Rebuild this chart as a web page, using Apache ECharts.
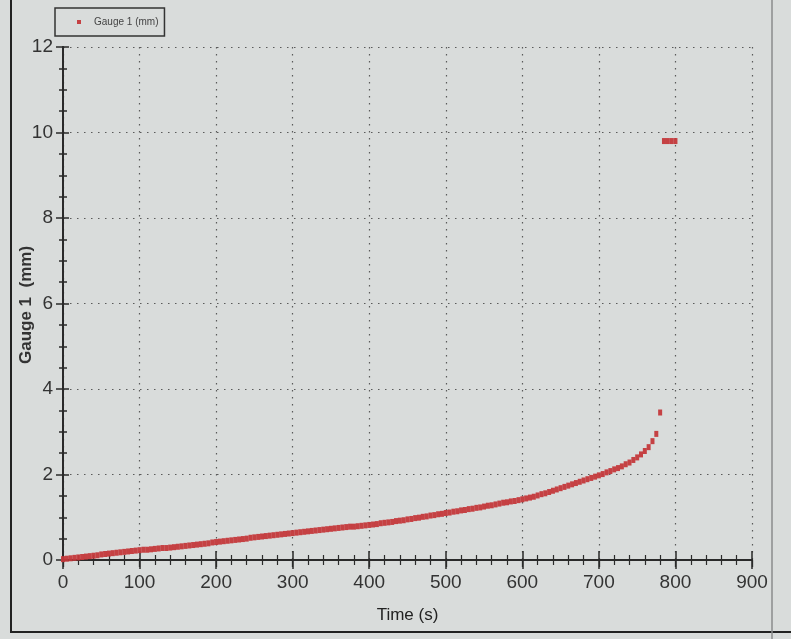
<!DOCTYPE html>
<html>
<head>
<meta charset="utf-8">
<script src="https://cdn.jsdelivr.net/npm/echarts@6/dist/echarts.min.js"></script>
<style>
html,body{margin:0;padding:0;background:#d9dcdb;}
#chart{width:791px;height:639px;}
</style>
</head>
<body>
<div id="chart"></div>
<script>
// Time (s) of each sample
var times = [
  0,5,10,15,20,25,30,35,40,45,50,
  55,60,65,70,75,80,85,90,95,100,
  105,110,115,120,125,130,135,140,145,150,
  155,160,165,170,175,180,185,190,195,200,
  205,210,215,220,225,230,235,240,245,250,
  255,260,265,270,275,280,285,290,295,300,
  305,310,315,320,325,330,335,340,345,350,
  355,360,365,370,375,380,385,390,395,400,
  405,410,415,420,425,430,435,440,445,450,
  455,460,465,470,475,480,485,490,495,500,
  505,510,515,520,525,530,535,540,545,550,
  555,560,565,570,575,580,585,590,595,600,
  605,610,615,620,625,630,635,640,645,650,
  655,660,665,670,675,680,685,690,695,700,
  705,710,715,720,725,730,735,740,745,750,
  755,760,765,770,775,780,
  785,790,795,800
];
// Gauge 1 (mm) readings
var gauge1 = [
  0.02,0.03,0.04,0.05,0.06,0.07,0.08,0.09,0.10,0.11,0.13,
  0.14,0.15,0.16,0.17,0.18,0.19,0.20,0.21,0.22,0.23,
  0.24,0.24,0.25,0.26,0.27,0.28,0.28,0.29,0.30,0.31,
  0.32,0.33,0.34,0.35,0.36,0.37,0.38,0.39,0.41,0.42,
  0.43,0.44,0.45,0.46,0.47,0.48,0.49,0.50,0.52,0.53,
  0.54,0.55,0.56,0.57,0.58,0.59,0.60,0.61,0.62,0.63,
  0.64,0.65,0.66,0.67,0.68,0.69,0.70,0.71,0.72,0.73,
  0.74,0.75,0.76,0.77,0.78,0.78,0.79,0.80,0.81,0.82,
  0.83,0.84,0.86,0.87,0.88,0.89,0.91,0.92,0.93,0.95,
  0.96,0.98,0.99,1.01,1.02,1.04,1.05,1.07,1.08,1.10,
  1.11,1.13,1.14,1.16,1.17,1.19,1.20,1.22,1.23,1.25,
  1.27,1.28,1.30,1.32,1.34,1.35,1.37,1.38,1.40,1.42,
  1.44,1.46,1.48,1.51,1.54,1.56,1.59,1.62,1.65,1.68,
  1.71,1.74,1.77,1.80,1.83,1.86,1.89,1.92,1.95,1.98,
  2.01,2.05,2.08,2.12,2.15,2.19,2.24,2.28,2.34,2.40,
  2.47,2.55,2.64,2.78,2.95,3.45,
  9.8,9.8,9.8,9.8
];
var seriesName = 'Gauge 1 (mm)';
var xTitle = 'Time (s)';
var yTitle = 'Gauge 1  (mm)';

var points = [];
for (var i = 0; i < times.length; i++) points.push([times[i], gauge1[i]]);

var labelFont = '"Liberation Sans Narrow", "Liberation Sans", Arial, sans-serif';
var axisCol = '#2a2a2a';
var gridLine = {show:true, lineStyle:{color:'#5a5a5a', width:1.2, type:[1.5,5.5]}};

var chart = echarts.init(document.getElementById('chart'));
chart.setOption({
  backgroundColor: '#d9dcdb',
  animation: false,
  legend: {
    left: 55, top: 8,
    itemWidth: 4, itemHeight: 4,
    padding: [9, 6, 9, 22],
    itemGap: 10,
    borderColor: '#333', borderWidth: 1.5,
    textStyle: {fontFamily: labelFont, fontSize: 10, color: '#444', padding: [0, 0, 0, 8]},
    data: [{name: seriesName, icon: 'rect'}]
  },
  grid: {left: 63, right: 39, top: 47, bottom: 79, containLabel: false},
  xAxis: [{
    type: 'value', min: 0, max: 900, interval: 100, position: 'bottom',
    name: xTitle, nameLocation: 'middle', nameGap: 47,
    nameTextStyle: {fontFamily: labelFont, fontSize: 17, color: '#222'},
    axisLine: {show: true, lineStyle: {color: axisCol, width: 2}},
    axisTick: {show: true, length: 9, lineStyle: {color: axisCol, width: 1.5}},
    minorTick: {show: true, splitNumber: 5, length: 5, lineStyle: {color: axisCol, width: 1.2}},
    axisLabel: {fontFamily: labelFont, fontSize: 19, color: '#333', margin: 13},
    splitLine: gridLine
  }, {
    type: 'value', min: 0, max: 900, interval: 100, position: 'bottom',
    axisLine: {show: false},
    axisTick: {show: true, inside: true, length: 9, lineStyle: {color: axisCol, width: 1.5}},
    minorTick: {show: true, splitNumber: 5, length: 5, lineStyle: {color: axisCol, width: 1.2}},
    axisLabel: {show: false}, splitLine: {show: false}
  }, {
    type: 'value', min: 0, max: 900, interval: 100, position: 'top',
    axisLine: {show: true, lineStyle: {color: axisCol, width: 2}},
    axisTick: {show: true, inside: true, length: 7, lineStyle: {color: axisCol, width: 1.3}},
    minorTick: {show: true, splitNumber: 5, length: 4, lineStyle: {color: axisCol, width: 1}},
    axisLabel: {show: false}, splitLine: {show: false}
  }],
  yAxis: [{
    type: 'value', min: 0, max: 12, interval: 2, position: 'left',
    axisLine: {show: true, lineStyle: {color: axisCol, width: 2}},
    axisTick: {show: true, length: 7, lineStyle: {color: axisCol, width: 1.5}},
    minorTick: {show: true, splitNumber: 4, length: 4, lineStyle: {color: axisCol, width: 1.5}},
    axisLabel: {fontFamily: labelFont, fontSize: 19, color: '#333', margin: 10},
    splitLine: gridLine
  }, {
    type: 'value', min: 0, max: 12, interval: 2, position: 'left',
    axisLine: {show: false},
    axisTick: {show: true, inside: true, length: 6, lineStyle: {color: axisCol, width: 1.5}},
    minorTick: {show: true, splitNumber: 4, length: 4, lineStyle: {color: axisCol, width: 1.5}},
    axisLabel: {show: false}, splitLine: {show: false}
  }, {
    type: 'value', min: 0, max: 12, interval: 2, position: 'right',
    axisLine: {show: true, lineStyle: {color: axisCol, width: 2}},
    axisTick: {show: false}, axisLabel: {show: false}, splitLine: {show: false}
  }],
  graphic: [{
    type: 'polyline',
    shape: {points: [[11, 0], [11, 632], [791, 632]]},
    style: {stroke: '#222', lineWidth: 2, fill: null},
    silent: true
  }, {
    type: 'line',
    shape: {x1: 772, y1: 0, x2: 772, y2: 639},
    style: {stroke: '#8a8d8c', lineWidth: 1.5},
    silent: true
  }, {
    type: 'text',
    x: 26, y: 305,
    rotation: Math.PI / 2,
    style: {
      text: yTitle, align: 'center', verticalAlign: 'middle',
      font: 'bold 17px "Liberation Sans", Arial, sans-serif',
      fill: '#333'
    },
    silent: true
  }],
  series: [{
    name: seriesName,
    type: 'scatter',
    xAxisIndex: 0, yAxisIndex: 0,
    symbol: 'rect',
    symbolSize: [4, 6],
    itemStyle: {color: '#c4383b', opacity: 0.95},
    data: points
  }]
});
</script>
</body>
</html>
